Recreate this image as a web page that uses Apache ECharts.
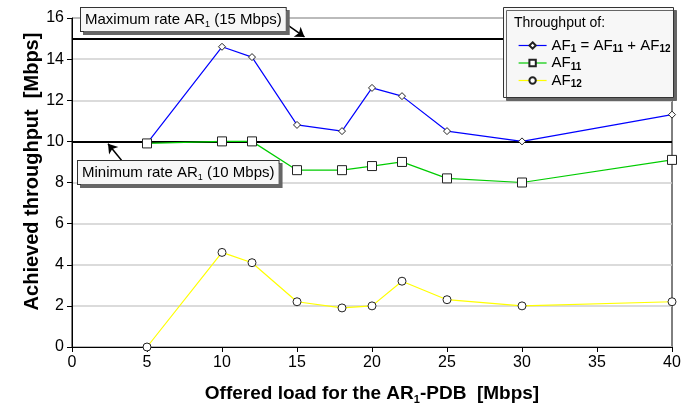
<!DOCTYPE html>
<html>
<head>
<meta charset="utf-8">
<script src="https://cdn.jsdelivr.net/npm/echarts@6/dist/echarts.min.js"></script>
<style>
  html, body { margin: 0; padding: 0; background: #fff; }
  #chart { width: 683px; height: 406px; }
</style>
</head>
<body>
<div id="chart"></div>
<script>
// offered load [Mbps]
const loads = [5, 10, 12, 15, 18, 20, 22, 25, 30, 40];
// achieved throughput [Mbps]
const af1 = [9.9, 14.6, 14.1, 10.8, 10.5, 12.6, 12.2, 10.5, 10.0, 11.3];
const af11 = [9.9, 10.0, 10.0, 8.6, 8.6, 8.8, 9.0, 8.2, 8.0, 9.1];
const af12 = [0, 4.6, 4.1, 2.2, 1.9, 2.0, 3.2, 2.3, 2.0, 2.2];
const maxRate = 15;
const minRate = 10;

const font = 'Liberation Sans, Arial, sans-serif';
const pair = (ys) => loads.map((x, i) => [x, ys[i]]);

const sub = {
  n: { fontSize: 15, fontFamily: font, color: '#000', lineHeight: 18 },
  s: { fontSize: 10, fontFamily: font, fontWeight: 'bold', color: '#000', lineHeight: 12, verticalAlign: 'bottom', padding: [6, 0, 0, 0] }
};
const legendText = {
  'AF1 = AF11 + AF12': '{n|AF}{s|1}{n| = AF}{s|11}{n| + AF}{s|12}',
  'AF11': '{n|AF}{s|11}',
  'AF12': '{n|AF}{s|12}'
};

const chart = echarts.init(document.getElementById('chart'));

function lineSeries(name, data, color, symbol, size) {
  return {
    name: name,
    type: 'line',
    data: pair(data),
    symbol: symbol,
    symbolSize: size,
    showAllSymbol: true,
    animation: false,
    lineStyle: { color: color, width: 1.2 },
    itemStyle: { color: '#fff', borderColor: '#222', borderWidth: 1 },
    z: 5
  };
}

const arrowLine = { color: '#000', width: 1.5, type: 'solid' };
const boxRich = {
  n: { fontSize: 15, fontFamily: font, color: '#000', lineHeight: 18 },
  s: { fontSize: 9, fontFamily: font, color: '#000', lineHeight: 10, verticalAlign: 'bottom', padding: [7, 0, 0, 0] }
};

chart.setOption({
  animation: false,
  grid: {
    left: 72, right: 11, top: 18, bottom: 59,
    outerBoundsMode: 'none', containLabel: false,
    show: true, borderColor: '#000', borderWidth: 1
  },
  xAxis: {
    type: 'value', min: 0, max: 40, interval: 5,
    name: '{n|Offered load for the AR}{s|1}{n|-PDB  [Mbps]}',
    nameLocation: 'middle', nameGap: 36,
    nameTextStyle: {
      rich: {
        n: { fontSize: 19, fontWeight: 'bold', fontFamily: font, color: '#000', lineHeight: 22 },
        s: { fontSize: 11, fontWeight: 'bold', fontFamily: font, color: '#000', lineHeight: 12, verticalAlign: 'bottom', padding: [9, 0, 0, 0] }
      }
    },
    axisLine: { lineStyle: { color: '#000', width: 1 } },
    axisTick: { show: true, length: 5, lineStyle: { color: '#000' } },
    axisLabel: { fontSize: 16, fontFamily: font, color: '#000', margin: 8 },
    splitLine: { show: false }
  },
  yAxis: {
    type: 'value', min: 0, max: 16, interval: 2,
    name: 'Achieved throughput  [Mbps]',
    nameLocation: 'middle', nameGap: 30, nameMoveOverlap: false,
    nameTextStyle: { fontSize: 20, fontWeight: 'bold', fontFamily: font, color: '#000', padding: [0, 0, 0, 22] },
    axisLine: { show: true, lineStyle: { color: '#000', width: 1 } },
    axisTick: { show: true, length: 5, lineStyle: { color: '#000' } },
    axisLabel: { fontSize: 16, fontFamily: font, color: '#000', margin: 8 },
    splitLine: { show: true, lineStyle: { color: '#cfcfcf', width: 1.5 } }
  },
  legend: {
    orient: 'vertical',
    left: 513, top: 33,
    itemWidth: 28, itemHeight: 8, itemGap: 1,
    data: ['AF1 = AF11 + AF12', 'AF11', 'AF12'],
    formatter: (name) => legendText[name],
    textStyle: { rich: sub },
    lineStyle: { width: 1.2 },
    z: 20
  },
  graphic: [
    {
      type: 'rect', left: 503, top: 7, z: 10,
      shape: { width: 170, height: 90 },
      style: { fill: '#f7f7f7', stroke: '#333', lineWidth: 1, shadowColor: '#666', shadowOffsetX: 3, shadowOffsetY: 3, shadowBlur: 0 }
    },
    {
      type: 'text', left: 514, top: 16, z: 11,
      style: { text: 'Throughput of:', font: '14px ' + font, fill: '#000' }
    },
    {
      type: 'text', left: 80, top: 7, z: 10,
      style: {
        text: '{n|Maximum rate AR}{s|1}{n| (15 Mbps)}',
        rich: boxRich,
        backgroundColor: '#f7f7f7', borderColor: '#333', borderWidth: 1,
        padding: [3, 4, 2, 4],
        shadowColor: '#666', shadowOffsetX: 3, shadowOffsetY: 3, shadowBlur: 0
      }
    },
    {
      type: 'text', left: 77, top: 160, z: 10,
      style: {
        text: '{n|Minimum rate AR}{s|1}{n| (10 Mbps)}',
        rich: boxRich,
        backgroundColor: '#f7f7f7', borderColor: '#333', borderWidth: 1,
        padding: [3, 4, 2, 4],
        shadowColor: '#666', shadowOffsetX: 3, shadowOffsetY: 3, shadowBlur: 0
      }
    }
  ],
  series: [
    lineSeries('AF1 = AF11 + AF12', af1, '#0000ff', 'diamond', 7),
    lineSeries('AF11', af11, '#00cc00', 'rect', 9),
    lineSeries('AF12', af12, '#ffff00', 'circle', 8),
    {
      // rate limits and the arrows pointing at them
      type: 'line', data: [], silent: true,
      markLine: {
        silent: true, animation: false, symbol: 'none', label: { show: false },
        data: [
          { yAxis: maxRate, lineStyle: { color: '#000', width: 2, type: 'solid' } },
          { yAxis: minRate, lineStyle: { color: '#000', width: 2, type: 'solid' } },
          [
            { coord: [14.0, 15.85], symbol: 'none', lineStyle: arrowLine },
            { coord: [15.5, 15.08], symbol: 'arrow', symbolSize: 9 }
          ],
          [
            { coord: [3.3, 9.08], symbol: 'none', lineStyle: arrowLine },
            { coord: [2.4, 9.88], symbol: 'arrow', symbolSize: 9 }
          ]
        ]
      },
      z: 3
    }
  ]
});
</script>
</body>
</html>
